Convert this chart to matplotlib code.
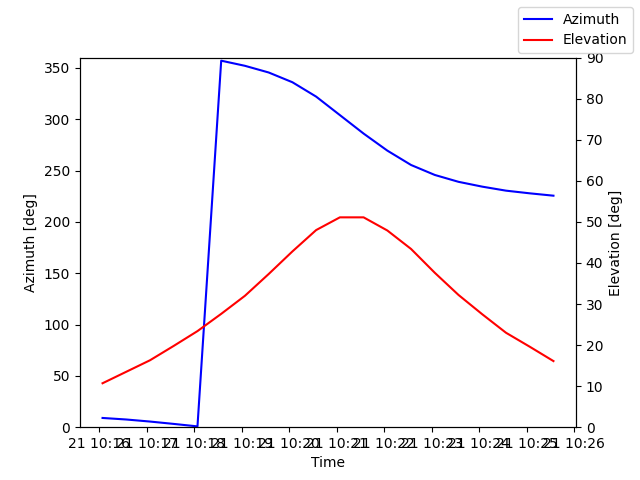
import numpy as np
import pandas as pd
import matplotlib
matplotlib.use("Agg")
import matplotlib.pyplot as plt

# pass samples, every 30 s
times = pd.date_range("2023-06-21 10:16:04", periods=20, freq="30s")

azimuth = [9.0, 7.5, 5.5, 3.2, 0.8, 357.0, 352.0, 345.5, 336.0, 322.0,
           304.0, 286.0, 269.4, 255.4, 245.7, 239.0, 234.3, 230.4, 227.8, 225.5]

elevation = [10.7, 13.5, 16.3, 19.8, 23.4, 27.6, 32.0, 37.3, 42.8, 48.0,
             51.1, 51.1, 47.9, 43.4, 37.6, 32.2, 27.5, 23.0, 19.6, 16.1]

fig, ax1 = plt.subplots(figsize=(6.4, 4.8), dpi=100)
ax1.plot(times, azimuth, color="blue", label="Azimuth")
ax1.set_ylim(0, 360)
ax1.set_xlabel("Time")
ax1.set_ylabel("Azimuth [deg]")

ax2 = ax1.twinx()
ax2.plot(times, elevation, color="red", label="Elevation")
ax2.set_ylim(0, 90)
ax2.set_ylabel("Elevation [deg]")

fig.legend()
fig.savefig("out.png")
